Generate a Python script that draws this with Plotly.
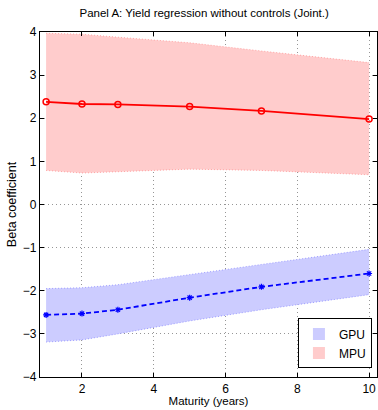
import plotly.graph_objects as go

maturity = [1, 2, 3, 5, 7, 10]
mpu_beta = [2.38, 2.33, 2.32, 2.27, 2.17, 1.98]
mpu_upper = [3.97, 3.95, 3.88, 3.75, 3.56, 3.29]
mpu_lower = [0.79, 0.73, 0.76, 0.82, 0.79, 0.69]
gpu_beta = [-2.56, -2.53, -2.44, -2.16, -1.91, -1.60]
gpu_upper = [-1.95, -1.93, -1.86, -1.62, -1.39, -1.04]
gpu_lower = [-3.19, -3.14, -3.00, -2.70, -2.44, -2.09]

GPU_FILL = "rgb(204,204,255)"
MPU_FILL = "rgb(255,204,204)"

fig = go.Figure()

# GPU band
fig.add_trace(go.Scatter(x=maturity, y=gpu_upper, mode="lines",
                         line=dict(color="rgba(120,120,255,0.8)", width=0.8, dash="1px,2px"),
                         showlegend=False, hoverinfo="skip"))
fig.add_trace(go.Scatter(x=maturity, y=gpu_lower, mode="lines", fill="tonexty",
                         fillcolor=GPU_FILL,
                         line=dict(color="rgba(120,120,255,0.8)", width=0.8, dash="1px,2px"),
                         showlegend=False, hoverinfo="skip"))
# MPU band
fig.add_trace(go.Scatter(x=maturity, y=mpu_upper, mode="lines",
                         line=dict(color="rgba(255,130,130,0.8)", width=0.8, dash="1px,2px"),
                         showlegend=False, hoverinfo="skip"))
fig.add_trace(go.Scatter(x=maturity, y=mpu_lower, mode="lines", fill="tonexty",
                         fillcolor=MPU_FILL,
                         line=dict(color="rgba(255,130,130,0.8)", width=0.8, dash="1px,2px"),
                         showlegend=False, hoverinfo="skip"))

# Legend patches
fig.add_trace(go.Bar(x=[None], y=[None], marker=dict(color=GPU_FILL, line=dict(width=0)), name="GPU"))
fig.add_trace(go.Bar(x=[None], y=[None], marker=dict(color=MPU_FILL, line=dict(width=0)), name="MPU"))

# Lines
fig.add_trace(go.Scatter(x=maturity, y=mpu_beta, mode="lines+markers",
                         line=dict(color="red", width=1.8),
                         marker=dict(symbol="circle-open", size=6, color="red", line=dict(width=1.5)),
                         showlegend=False))
fig.add_trace(go.Scatter(x=maturity, y=gpu_beta, mode="lines+markers",
                         line=dict(color="blue", width=1.8, dash="5px,3px"),
                         marker=dict(symbol="asterisk-open", size=5, color="blue", line=dict(width=1.2, color="blue")),
                         showlegend=False))

axis_common = dict(showline=True, mirror="allticks", linecolor="black", linewidth=1.2,
                   ticks="inside", ticklen=4, tickcolor="black",
                   showgrid=True, gridcolor="rgb(150,150,150)", griddash="1px,3px", gridwidth=1,
                   zeroline=False, tickfont=dict(size=12, color="black"))

fig.update_layout(
    width=378, height=410,
    margin=dict(l=40, r=1, t=32, b=33),
    paper_bgcolor="white", plot_bgcolor="white",
    font=dict(family="Liberation Sans, Arial, sans-serif", color="black"),
    title=dict(text="Panel A: Yield regression without controls (Joint.)",
               font=dict(size=11.5, color="black"), x=0.54, xanchor="center", y=0.968, yanchor="middle"),
    xaxis=dict(range=[0.83, 10.22], tickvals=[2, 4, 6, 8, 10],
               title=dict(text="Maturity (years)", font=dict(size=11.5), standoff=2), **axis_common),
    yaxis=dict(range=[-4, 4], tickvals=[-4, -3, -2, -1, 0, 1, 2, 3, 4],
               title=dict(text="Beta coefficient", font=dict(size=12.5), standoff=3), **axis_common),
    legend=dict(x=0.985, y=0.025, xanchor="right", yanchor="bottom",
                bgcolor="white", bordercolor="black", borderwidth=1, traceorder="normal",
                font=dict(size=12), tracegroupgap=0, itemwidth=30),
    showlegend=True,
)

fig.write_html("out.html")
